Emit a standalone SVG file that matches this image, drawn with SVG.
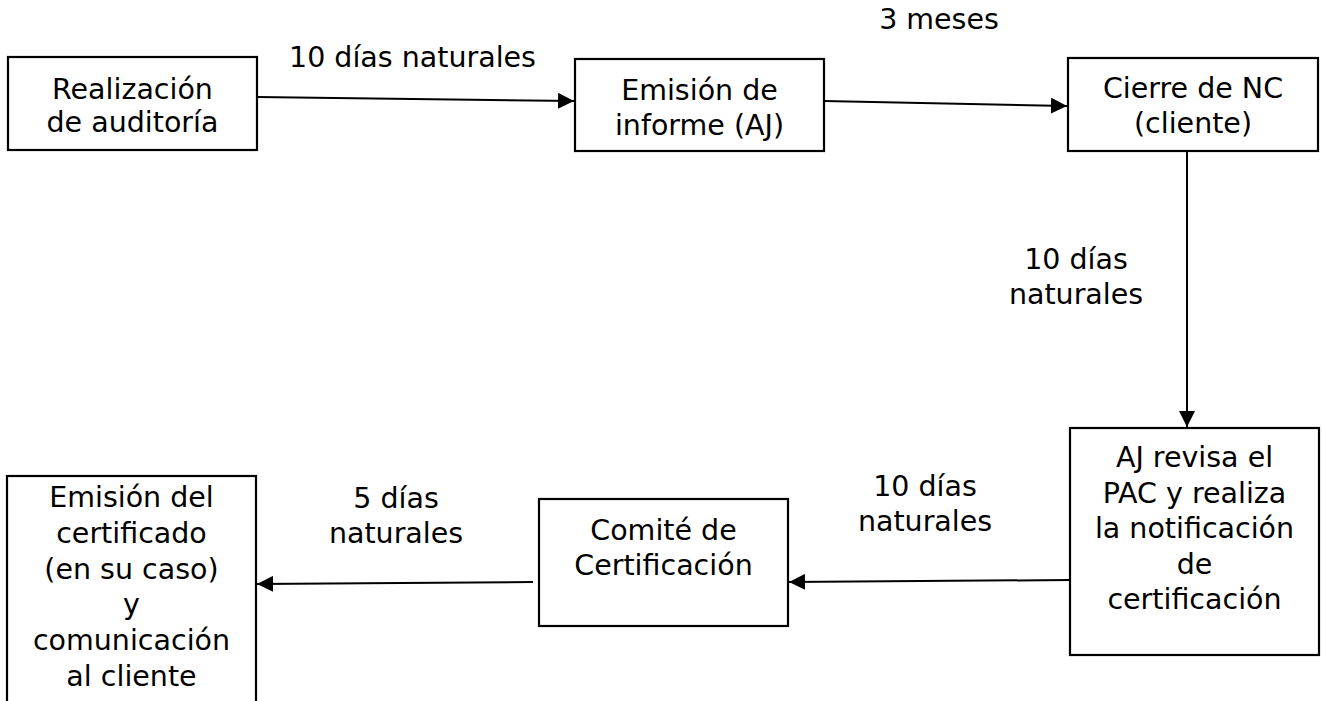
<svg xmlns="http://www.w3.org/2000/svg" width="1322" height="701" viewBox="0 0 1322 701">
<style>
.box{fill:#fff;stroke:#000;stroke-width:2.2}
.t{font-family:"DejaVu Sans",Verdana,sans-serif;font-size:28.5px;fill:#000;text-anchor:middle}
.c{stroke:#000;stroke-width:2;fill:none;marker-end:url(#ah)}
</style>
<defs>
<marker id="ah" markerUnits="userSpaceOnUse" markerWidth="18" markerHeight="16" refX="16" refY="8" orient="auto">
<path d="M0,0 L16,8 L0,16 Z" fill="#000"/>
</marker>
</defs>
<rect width="1322" height="701" fill="#fff"/>
<g id="connectors">
<line class="c" x1="257" y1="97" x2="574" y2="101"/>
<line class="c" x1="824" y1="101" x2="1067" y2="106"/>
<line class="c" x1="1187" y1="151" x2="1187" y2="427"/>
<line class="c" x1="1070" y1="580" x2="789" y2="582"/>
<line class="c" x1="533" y1="582" x2="257" y2="584"/>
</g>
<g id="labels">
<text class="t" x="412.5" y="67">10 días naturales</text>
<text class="t" x="939" y="29">3 meses</text>
<text class="t" x="1076" y="269">10 días</text>
<text class="t" x="1076" y="304">naturales</text>
<text class="t" x="925" y="496">10 días</text>
<text class="t" x="925" y="531">naturales</text>
<text class="t" x="396" y="508">5 días</text>
<text class="t" x="396" y="543">naturales</text>
</g>
<g id="n1">
<rect class="box" x="8" y="57" width="249" height="93"/>
<text class="t" x="132.5" y="99">Realización</text>
<text class="t" x="132.5" y="132">de auditoría</text>
</g>
<g id="n2">
<rect class="box" x="575" y="59" width="249" height="92"/>
<text class="t" x="699.5" y="100">Emisión de</text>
<text class="t" x="699.5" y="135">informe (AJ)</text>
</g>
<g id="n3">
<rect class="box" x="1068" y="58" width="250" height="93"/>
<text class="t" x="1193" y="98">Cierre de NC</text>
<text class="t" x="1193" y="133">(cliente)</text>
</g>
<g id="n4">
<rect class="box" x="1070" y="428" width="249" height="227"/>
<text class="t" x="1194.5" y="467">AJ revisa el</text>
<text class="t" x="1194.5" y="502.5">PAC y realiza</text>
<text class="t" x="1194.5" y="538">la notificación</text>
<text class="t" x="1194.5" y="573.5">de</text>
<text class="t" x="1194.5" y="609">certificación</text>
</g>
<g id="n5">
<rect class="box" x="539" y="499" width="249" height="127"/>
<text class="t" x="663.5" y="540">Comité de</text>
<text class="t" x="663.5" y="575">Certificación</text>
</g>
<g id="n6">
<rect class="box" x="7" y="476" width="249" height="240"/>
<text class="t" x="131.5" y="507">Emisión del</text>
<text class="t" x="131.5" y="543">certificado</text>
<text class="t" x="131.5" y="579">(en su caso)</text>
<text class="t" x="131.5" y="614">y</text>
<text class="t" x="131.5" y="650">comunicación</text>
<text class="t" x="131.5" y="686">al cliente</text>
</g>
</svg>
